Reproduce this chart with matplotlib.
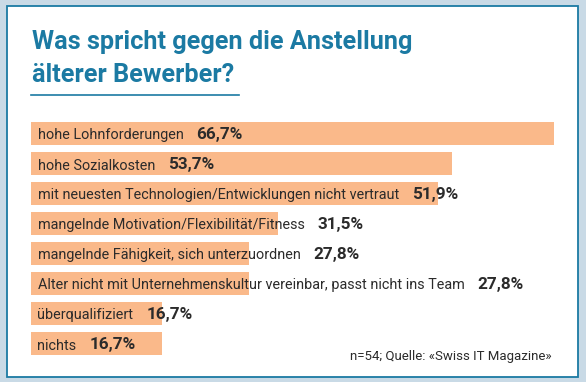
import matplotlib
matplotlib.use("Agg")
import matplotlib.pyplot as plt
from matplotlib.patches import Rectangle
from matplotlib.lines import Line2D

categories = [
    "hohe Lohnforderungen",
    "hohe Sozialkosten",
    "mit neuesten Technologien/Entwicklungen nicht vertraut",
    "mangelnde Motivation/Flexibilität/Fitness",
    "mangelnde Fähigkeit, sich unterzuordnen",
    "Alter nicht mit Unternehmenskultur vereinbar, passt nicht ins Team",
    "überqualifiziert",
    "nichts",
]
values = [66.7, 53.7, 51.9, 31.5, 27.8, 27.8, 16.7, 16.7]
value_labels = ["66,7%", "53,7%", "51,9%", "31,5%", "27,8%", "27,8%", "16,7%", "16,7%"]
title_lines = ["Was spricht gegen die Anstellung", "älterer Bewerber?"]
source = "n=54; Quelle: «Swiss IT Magazine»"

W, H = 586, 382
DPI = 100
FAM = ["Liberation Sans Narrow", "DejaVu Sans Condensed", "Roboto", "DejaVu Sans"]
BLUE = "#1b7aa3"
BAR = "#fab98a"
TXT = "#2b2b2b"

fig = plt.figure(figsize=(W / DPI, H / DPI), dpi=DPI)
fig.patch.set_facecolor("#c9dae6")

# decoration axes in pixel coordinates (y down)
deco = fig.add_axes([0, 0, 1, 1])
deco.set_xlim(0, W)
deco.set_ylim(H, 0)
deco.axis("off")
deco.add_patch(Rectangle((6.5, 5.5), 571, 371, facecolor="white", edgecolor=BLUE, linewidth=1.3))
deco.add_line(Line2D([31, 239], [94.5, 94.5], color=BLUE, linewidth=1.2))
deco.text(32, 48.5, title_lines[0], family=FAM, fontsize=18.2,
          fontweight="bold", color=BLUE, va="baseline", ha="left")
deco.text(32, 81.5, title_lines[1], family=FAM, fontsize=18.2,
          fontweight="bold", color=BLUE, va="baseline", ha="left")
deco.text(552, 360, source, family=FAM, fontsize=9.5, color=TXT, va="baseline", ha="right")

# bar axes
px_per_unit = 7.84
x0 = 31
xmax = 70
top_px, bot_px = 118.5, 358.5
ax = fig.add_axes([x0 / W, (H - bot_px) / H, xmax * px_per_unit / W, (bot_px - top_px) / H])
ax.set_xlim(0, xmax)
ax.set_ylim(len(values) - 0.5, -0.5)
ax.axis("off")
ax.patch.set_alpha(0)

ypos = list(range(len(values)))
ax.barh(ypos, values, height=23 / 30, color=BAR, left=0)

for i, (cat, vl) in enumerate(zip(categories, value_labels)):
    t = ax.text(6.5 / px_per_unit, i + 6.0 / 30, cat, family=FAM, fontsize=10.4,
                color=TXT, va="baseline", ha="left")
    ax.annotate(vl, xy=(1, 0), xycoords=t, xytext=(13, 0), textcoords="offset pixels",
                family=FAM, fontsize=12.3, fontweight="bold", color=TXT,
                va="bottom", ha="left")

fig.savefig("out.png", dpi=DPI, facecolor=fig.get_facecolor())
